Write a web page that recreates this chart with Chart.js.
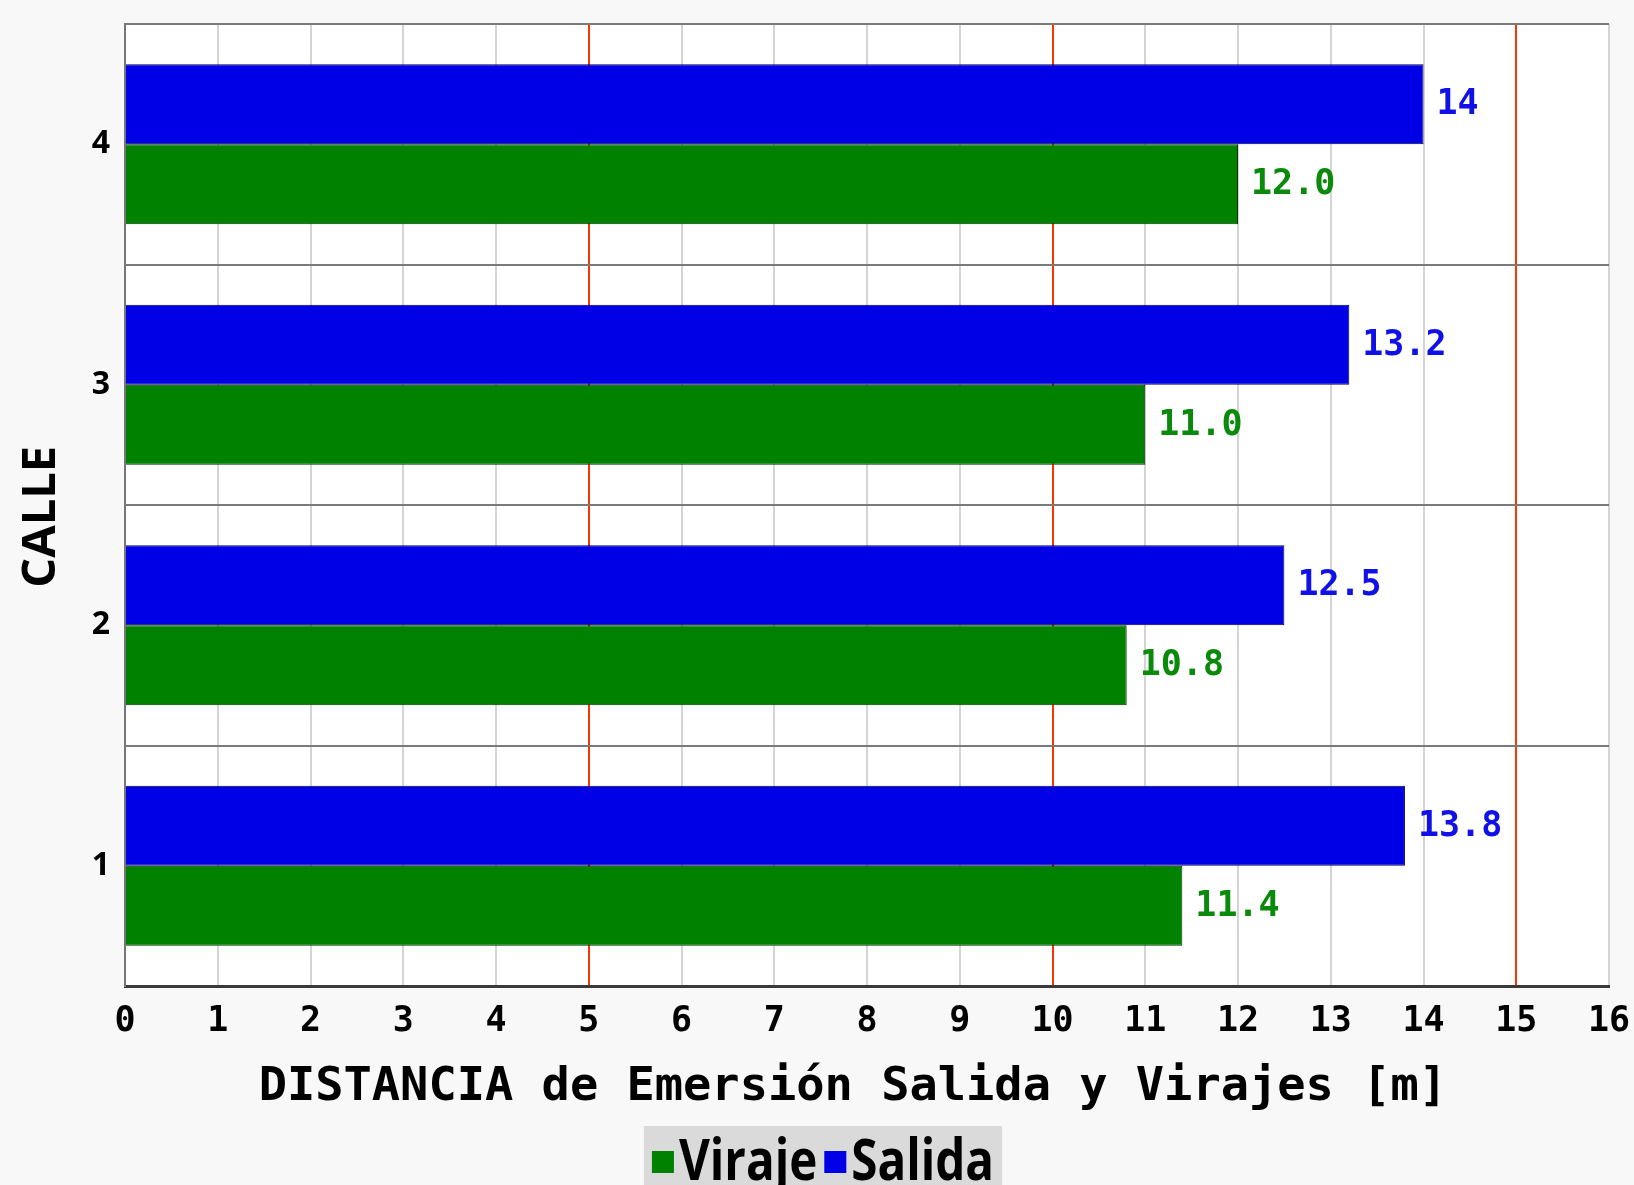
<!DOCTYPE html>
<html>
<head>
<meta charset="utf-8">
<script src="https://cdn.jsdelivr.net/npm/chart.js@4.4.1/dist/chart.umd.min.js"></script>
<style>
  html, body { margin: 0; padding: 0; background: #f7f7f7; }
  #wrap { width: 1634px; height: 1185px; position: relative; }
</style>
</head>
<body>
<div id="wrap"><canvas id="c" width="1634" height="1185"></canvas></div>
<script>
// ---- data (top to bottom as shown) ----
const calles = ['4', '3', '2', '1'];
const salida = [14, 13.2, 12.5, 13.8];
const viraje = [12.0, 11.0, 10.8, 11.4];
const xTicks = [0, 1, 2, 3, 4, 5, 6, 7, 8, 9, 10, 11, 12, 13, 14, 15, 16];
const xTitle = 'DISTANCIA de Emersión Salida y Virajes [m] ';
const yTitle = 'CALLE\u2002';
const seriesNames = ['Salida', 'Viraje'];

const BLUE = '#0000e6';
const GREEN = '#008200';
const MONO = '"DejaVu Sans Mono", monospace';

const bgPlugin = {
  id: 'bg',
  beforeDraw(chart) {
    const { ctx, chartArea: a } = chart;
    ctx.save();
    ctx.fillStyle = '#f8f8f8';
    ctx.fillRect(0, 0, chart.width, chart.height);
    ctx.fillStyle = '#ffffff';
    ctx.fillRect(a.left, a.top, a.right - a.left, a.bottom - a.top);
    ctx.restore();
  }
};

const valueLabels = {
  id: 'valueLabels',
  afterDatasetsDraw(chart) {
    const ctx = chart.ctx;
    chart.data.datasets.forEach((ds, i) => {
      const meta = chart.getDatasetMeta(i);
      meta.data.forEach((bar, j) => {
        const v = ds.data[j];
        const txt = ds.label === 'Viraje' ? v.toFixed(1) : String(v);
        ctx.save();
        ctx.font = 'bold 35px ' + MONO;
        ctx.fillStyle = ds.labelColor;
        ctx.textAlign = 'left';
        ctx.textBaseline = 'middle';
        ctx.fillText(txt, bar.x + 13, bar.y + 1);
        ctx.restore();
      });
    });
  }
};

const customLegend = {
  id: 'customLegend',
  afterDraw(chart) {
    const ctx = chart.ctx;
    const items = chart.data.datasets.slice().reverse();
    const font = 'bold 58px "Open Sans", sans-serif';
    const squeeze = 0.82;
    ctx.save();
    ctx.font = font;
    const sq = 22, gapSq = 5, gapItem = 7;
    let total = 0;
    items.forEach((ds, k) => {
      total += sq + gapSq + ctx.measureText(ds.label).width * squeeze + (k < items.length - 1 ? gapItem : 0);
    });
    const cx = 823;
    const boxL = cx - total / 2 - 8, boxR = cx + total / 2 + 8;
    ctx.fillStyle = '#dadada';
    ctx.fillRect(boxL, 1126, boxR - boxL, chart.height - 1126);
    let x = cx - total / 2;
    const base = 1180;
    items.forEach((ds) => {
      ctx.fillStyle = ds.backgroundColor;
      ctx.fillRect(x, 1151, sq, sq);
      x += sq + gapSq;
      ctx.fillStyle = '#000';
      ctx.textBaseline = 'alphabetic';
      ctx.textAlign = 'left';
      ctx.save();
      ctx.translate(x, base);
      ctx.scale(squeeze, 1);
      ctx.fillText(ds.label, 0, 0);
      ctx.restore();
      x += ctx.measureText(ds.label).width * squeeze + gapItem;
    });
    ctx.restore();
  }
};

new Chart(document.getElementById('c'), {
  type: 'bar',
  data: {
    labels: calles,
    datasets: [
      { label: seriesNames[0], data: salida, backgroundColor: BLUE, borderColor: '#00004a', borderWidth: 1, labelColor: '#1010e8' },
      { label: seriesNames[1], data: viraje, backgroundColor: GREEN, borderColor: '#003300', borderWidth: 1, labelColor: '#0a8a0a' }
    ]
  },
  options: {
    indexAxis: 'y',
    responsive: false,
    animation: false,
    devicePixelRatio: 1,
    categoryPercentage: 0.665,
    barPercentage: 1.0,
    layout: { padding: { top: 24, right: 25, bottom: 59, left: 0 } },
    plugins: {
      legend: { display: false },
      tooltip: { enabled: false }
    },
    scales: {
      x: {
        type: 'linear',
        min: xTicks[0],
        max: xTicks[xTicks.length - 1],
        afterBuildTicks(scale) { scale.ticks = xTicks.map(v => ({ value: v })); },
        afterFit(scale) { scale.height = 140; scale.paddingLeft = 0; scale.paddingRight = 0; },
        ticks: {
          color: '#000',
          font: { family: MONO, size: 35, weight: 'bold' },
          padding: 15,
          maxRotation: 0,
          autoSkip: false
        },
        grid: {
          drawTicks: false,
          color: (c) => {
            const v = c.tick && c.tick.value;
            if (v === 5 || v === 10 || v === 15) return '#ff3300';
            if (v === 0) return '#777777';
            return '#d4d4d4';
          },
          lineWidth: 2
        },
        border: { display: true, color: '#3a3a3a', width: 3 },
        title: {
          display: true,
          text: xTitle,
          color: '#000',
          font: { family: MONO, size: 47, weight: 'bold' },
          padding: { top: 0, bottom: 10 }
        }
      },
      y: {
        type: 'category',
        offset: true,
        afterFit(scale) { scale.width = 125; scale.paddingTop = 0; scale.paddingBottom = 0; },
        ticks: {
          color: '#000',
          font: { family: '"Open Sans", sans-serif', size: 32, weight: 'bold' },
          padding: 15
        },
        grid: {
          offset: true,
          drawTicks: false,
          color: '#7a7a7a',
          lineWidth: 2
        },
        border: { display: true, color: '#777777', width: 2 },
        title: {
          display: true,
          text: yTitle,
          color: '#000',
          font: { family: '"Open Sans", sans-serif', size: 47, weight: 'bold' },
          padding: { top: 13, bottom: 0 }
        }
      }
    }
  },
  plugins: [bgPlugin, valueLabels, customLegend]
});
</script>
</body>
</html>
